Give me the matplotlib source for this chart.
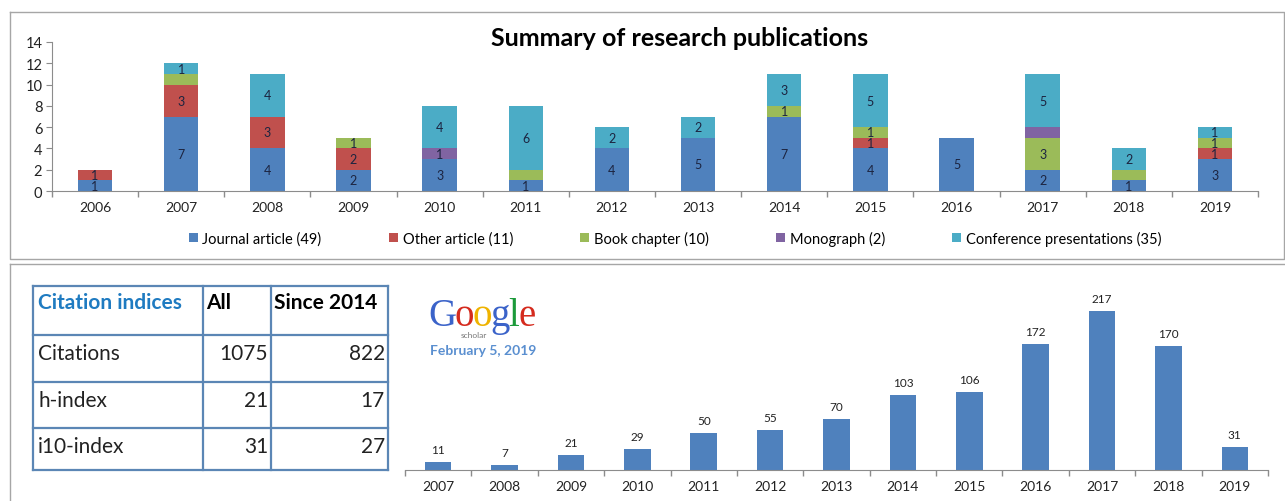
import numpy as np
import matplotlib
matplotlib.use('Agg')
import matplotlib.pyplot as plt

plt.rcParams['font.family'] = ['Lato', 'DejaVu Sans']

# publications per year, by type
years = ['2006', '2007', '2008', '2009', '2010', '2011', '2012',
         '2013', '2014', '2015', '2016', '2017', '2018', '2019']
journal = [1, 7, 4, 2, 3, 1, 4, 5, 7, 4, 5, 2, 1, 3]
other = [1, 3, 3, 2, 0, 0, 0, 0, 0, 1, 0, 0, 0, 1]
book = [0, 1, 0, 1, 0, 1, 0, 0, 1, 1, 0, 3, 1, 1]
monograph = [0, 0, 0, 0, 1, 0, 0, 0, 0, 0, 0, 1, 0, 0]
conference = [0, 1, 4, 0, 4, 6, 2, 2, 3, 5, 0, 5, 2, 1]
series_names = ['Journal article (49)', 'Other article (11)', 'Book chapter (10)',
                'Monograph (2)', 'Conference presentations (35)']
# segments that carry no number label in the original
unlabeled = {(2, '2007'), (2, '2011'), (3, '2017'), (2, '2018')}

# citations per year
cit_years = ['2007', '2008', '2009', '2010', '2011', '2012', '2013',
             '2014', '2015', '2016', '2017', '2018', '2019']
citations = [11, 7, 21, 29, 50, 55, 70, 103, 106, 172, 217, 170, 31]

# citation indices table
idx_header = ['Citation indices', 'All', 'Since 2014']
idx_rows = ['Citations', 'h-index', 'i10-index']
idx_all = [1075, 21, 31]
idx_since = [822, 17, 27]

colors = ['#4f81bd', '#c0504d', '#9bbb59', '#8064a2', '#4bacc6']
axis_col = '#8c8c8c'
W, H = 1285, 502

fig = plt.figure(figsize=(W / 100, H / 100), dpi=100)

# background overlay in pixel coordinates
bg = fig.add_axes([0, 0, 1, 1])
bg.set_xlim(0, W)
bg.set_ylim(H, 0)
bg.axis('off')
frame = '#a6a6a6'
bg.plot([10, 1284, 1284, 10, 10], [13, 13, 260, 260, 13], color=frame, lw=1)
bg.plot([10, 1284], [265, 265], color=frame, lw=1)
bg.plot([10, 10], [265, 502], color=frame, lw=1)


def px_axes(x0, x1, y0, y1):
    return fig.add_axes([x0 / W, 1 - y1 / H, (x1 - x0) / W, (y1 - y0) / H])


def category_axis(ax, labels, fs):
    n = len(labels)
    ax.set_xlim(-0.5, n - 0.5)
    ax.set_xticks(np.arange(-0.5, n), [''] * (n + 1))
    ax.set_xticks(np.arange(n), labels, minor=True)
    ax.tick_params(axis='x', which='major', direction='out', length=4,
                   color=axis_col, width=1)
    ax.tick_params(axis='x', which='minor', length=0, labelsize=fs, pad=7,
                   labelcolor='#222222')
    for s in ['top', 'right']:
        ax.spines[s].set_visible(False)
    ax.spines['bottom'].set_color(axis_col)
    ax.patch.set_alpha(0)


# ---- top: stacked publications ----
ax1 = px_axes(52, 1258, 43, 192)
x = np.arange(len(years))
bottom = np.zeros(len(years))
all_series = [journal, other, book, monograph, conference]
for i, vals in enumerate(all_series):
    vals = np.array(vals)
    ax1.bar(x, vals, bottom=bottom, width=0.4, color=colors[i],
            label=series_names[i], linewidth=0)
    for j, v in enumerate(vals):
        if v > 0 and (i, years[j]) not in unlabeled:
            ax1.text(x[j], bottom[j] + v / 2, str(v), ha='center', va='center',
                     fontsize=9, color='#1c2440')
    bottom = bottom + vals
ax1.set_ylim(0, 14)
ax1.set_yticks(range(0, 15, 2))
ax1.tick_params(axis='y', direction='out', length=4, color=axis_col,
                labelsize=10.5, labelcolor='#222222', pad=3)
ax1.spines['left'].set_color(axis_col)
category_axis(ax1, years, 10)

fig.text(680 / W, 1 - 38 / H, 'Summary of research publications',
         ha='center', va='center', fontsize=18, fontweight='bold')
handles, labels = ax1.get_legend_handles_labels()
fig.legend(handles, labels, loc='center', bbox_to_anchor=(675 / W, 1 - 239 / H),
           ncol=5, frameon=False, fontsize=10.5, handlelength=0.65,
           handleheight=0.65, handletextpad=0.3, columnspacing=4.6)

# ---- bottom right: citations per year ----
ax2 = px_axes(405, 1268, 288, 471)
xc = np.arange(len(cit_years))
ax2.bar(xc, citations, width=0.4, color='#4f81bd', linewidth=0)
for j, v in enumerate(citations):
    ax2.annotate(str(v), (xc[j], v), xytext=(0, 5), textcoords='offset points',
                 ha='center', va='bottom', fontsize=8.5, color='#222222')
ax2.set_ylim(0, 250)
ax2.set_yticks([])
ax2.spines['left'].set_visible(False)
category_axis(ax2, cit_years, 10)

# ---- bottom left: citation indices table ----
tcol = '#5b86b5'
xs = [33, 203, 271, 388]
ys = [287, 336, 383, 429, 471]
for xv in xs:
    bg.plot([xv, xv], [ys[0], ys[-1]], color=tcol, lw=1.6)
for yv in ys:
    bg.plot([xs[0], xs[-1]], [yv, yv], color=tcol, lw=1.6)
bg.text(38, 303, idx_header[0], ha='left', va='center', fontsize=15,
        fontweight='bold', color='#1f7bc1')
bg.text(206, 303, idx_header[1], ha='left', va='center', fontsize=15,
        fontweight='bold', color='black')
bg.text(274, 303, idx_header[2], ha='left', va='center', fontsize=15,
        fontweight='bold', color='black')
row_y = [354, 401, 447]
for r in range(len(idx_rows)):
    bg.text(38, row_y[r], idx_rows[r], ha='left', va='center', fontsize=15,
            color='#222222')
    bg.text(268, row_y[r], str(idx_all[r]), ha='right', va='center',
            fontsize=15, color='#222222')
    bg.text(385, row_y[r], str(idx_since[r]), ha='right', va='center',
            fontsize=15, color='#222222')

# ---- Google Scholar logo ----
renderer = fig.canvas.get_renderer()
gx = 428
for ch, c in zip('Google', ['#3b63c9', '#d52b1e', '#efb300', '#3b63c9',
                            '#1c9a3a', '#d52b1e']):
    t = bg.text(gx, 326, ch, ha='left', va='baseline', fontsize=28,
                family='Liberation Serif', color=c)
    bb = t.get_window_extent(renderer)
    gx += bb.width * 0.93
bg.text(474, 336, 'scholar', ha='center', va='center', fontsize=6,
        color='#777777')
bg.text(483, 351, 'February 5, 2019', ha='center', va='center', fontsize=10,
        fontweight='bold', color='#5a8fd0')

fig.savefig('out.png', dpi=100)
